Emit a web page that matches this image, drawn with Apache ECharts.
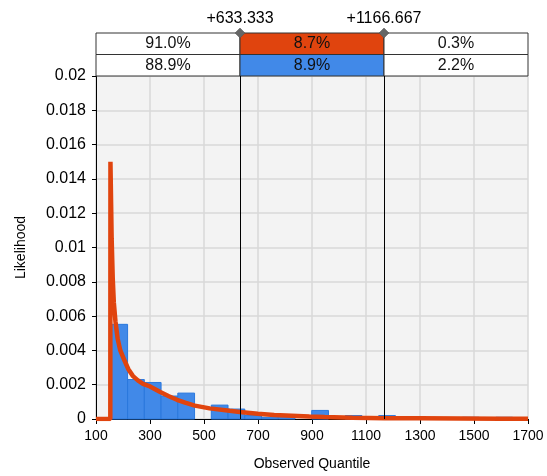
<!DOCTYPE html>
<html>
<head>
<meta charset="utf-8">
<script src="https://cdn.jsdelivr.net/npm/echarts@6/dist/echarts.min.js"></script>
<style>
html,body{margin:0;padding:0;background:#fff;}
#chart{width:547px;height:476px;}
</style>
</head>
<body>
<div id="chart"></div>
<script>
// ---- data ----
var xTickValues = [100, 300, 500, 700, 900, 1100, 1300, 1500, 1700];
var yTickValues = [0, 0.002, 0.004, 0.006, 0.008, 0.01, 0.012, 0.014, 0.016, 0.018, 0.02];
var thresholds = [633.333, 1166.667];
var thresholdLabels = ['+633.333', '+1166.667'];
var fitPercents = ['91.0%', '8.7%', '0.3%'];
var histPercents = ['88.9%', '8.9%', '2.2%'];
var binStart = 155;
var binWidth = 62;
var binDensity = [0.00552, 0.0023, 0.00213, 0.00134, 0.00151, 0, 0.00081, 0.00058,
                  0.0002, 0.0001, 0.0001, 0, 0.0005, 0, 0.0002, 0, 0.0002, 0, 0, 0, 0, 0.0001, 0, 0.0001];
var curveX = [100, 153, 153.5, 156, 158, 162, 166, 172, 180, 190, 203, 220, 237, 255, 274, 300, 338, 370, 400, 430, 466, 521, 595, 633, 699, 760, 825, 890, 947, 1050, 1169, 1300, 1450, 1600, 1700];
var curveY = [0, 0, 0.015, 0.0125, 0.0105, 0.0082, 0.0068, 0.0057, 0.0047, 0.0040, 0.0035, 0.0029, 0.0025, 0.00225, 0.00205, 0.0019, 0.00157, 0.00133, 0.00112, 0.00095, 0.00078, 0.00062, 0.00048, 0.00041, 0.00030, 0.00024, 0.00019, 0.00014, 0.00011, 0.00008, 0.00005, 0.00004, 0.00003, 0.00002, 0.00002];

var xMin = xTickValues[0], xMax = xTickValues[xTickValues.length - 1];
var yMax = yTickValues[yTickValues.length - 1];

// build derived tables
var histData = binDensity.map(function (d, i) {
  return [binStart + i * binWidth, binStart + (i + 1) * binWidth, d];
});
var curveData = curveX.map(function (x, i) { return [x, curveY[i]]; });
var colEdges = [xMin].concat(thresholds).concat([xMax]);
var tableData = [];
[fitPercents, histPercents].forEach(function (row, r) {
  row.forEach(function (txt, c) {
    tableData.push([colEdges[c], colEdges[c + 1], r, txt, c]);
  });
});
var markerData = thresholds.map(function (t, i) { return [t, 2, thresholdLabels[i]]; });

var FONT = '"Liberation Sans", Arial, sans-serif';
var RED = '#E0440E', BLUE = '#4189E8';

var chart = echarts.init(document.getElementById('chart'), null, {renderer: 'canvas'});
chart.setOption({
  animation: false,
  backgroundColor: '#ffffff',
  textStyle: {fontFamily: FONT},
  grid: [
    {left: 96, right: 19, top: 76, bottom: 56, show: true, backgroundColor: '#F3F3F3', borderWidth: 0},
    {left: 96, right: 19, top: 33, height: 43}
  ],
  xAxis: [
    {
      type: 'value', gridIndex: 0, min: xMin, max: xMax, interval: 200,
      name: 'Observed Quantile', nameLocation: 'middle', nameGap: 38,
      nameTextStyle: {fontSize: 14, color: '#000', fontFamily: FONT},
      axisLine: {lineStyle: {color: '#000', width: 1}},
      axisTick: {show: true, length: 5, lineStyle: {color: '#000'}},
      axisLabel: {fontSize: 14, color: '#000', margin: 10, fontFamily: FONT,
        formatter: function (v) { return String(v); }},
      splitLine: {show: true, lineStyle: {color: '#D9D9D9', width: 1.5}}
    },
    {type: 'value', gridIndex: 1, min: xMin, max: xMax, show: false}
  ],
  yAxis: [
    {
      type: 'value', gridIndex: 0, min: 0, max: yMax, interval: 0.002,
      name: 'Likelihood', nameLocation: 'middle', nameGap: 68, nameRotate: 90,
      nameTextStyle: {fontSize: 14, color: '#000', fontFamily: FONT},
      axisLine: {show: true, lineStyle: {color: '#000', width: 1}},
      axisTick: {show: true, length: 4, lineStyle: {color: '#000'}},
      axisLabel: {fontSize: 16, color: '#000', margin: 10, fontFamily: FONT,
        formatter: function (v) { return String(Number(v.toFixed(4))); }},
      splitLine: {show: true, lineStyle: {color: '#D9D9D9', width: 1.5}}
    },
    {type: 'value', gridIndex: 1, min: 0, max: 2, show: false}
  ],
  series: [
    {
      type: 'custom', name: 'hist', xAxisIndex: 0, yAxisIndex: 0, z: 2,
      data: histData,
      renderItem: function (params, api) {
        var v = api.value(2);
        if (!v) return null;
        var p0 = api.coord([api.value(0), 0]);
        var p1 = api.coord([api.value(1), v]);
        return {
          type: 'rect',
          shape: {x: p0[0], y: p1[1], width: p1[0] - p0[0], height: p0[1] - p1[1]},
          style: {fill: BLUE, stroke: '#2A78DD', lineWidth: 1}
        };
      },
      markLine: {
        silent: true, symbol: 'none', z: 10,
        label: {show: false},
        lineStyle: {color: '#000', width: 1, type: 'solid'},
        data: thresholds.map(function (t) { return {xAxis: t}; })
      }
    },
    {
      type: 'line', name: 'fit', xAxisIndex: 0, yAxisIndex: 0, z: 5,
      data: curveData, showSymbol: false, symbol: 'none',
      lineStyle: {color: RED, width: 4.5}
    },
    {
      type: 'custom', name: 'table', xAxisIndex: 1, yAxisIndex: 1, z: 3,
      data: tableData,
      renderItem: function (params, api) {
        var r = api.value(2), c = api.value(4);
        var p0 = api.coord([api.value(0), 2 - r]);
        var p1 = api.coord([api.value(1), 1 - r]);
        var fill = '#ffffff';
        if (c === 1) fill = r === 0 ? RED : BLUE;
        return {
          type: 'rect',
          shape: {x: p0[0], y: p0[1], width: p1[0] - p0[0], height: p1[1] - p0[1]},
          style: {fill: fill, stroke: '#333333', lineWidth: 1},
          textContent: {
            style: {text: tableData[params.dataIndex][3], fill: '#111', font: '16px ' + FONT}
          },
          textConfig: {position: 'inside'}
        };
      }
    },
    {
      type: 'scatter', name: 'markers', xAxisIndex: 1, yAxisIndex: 1, z: 6,
      data: markerData, symbol: 'diamond', symbolSize: [10, 10],
      itemStyle: {color: '#666666', borderColor: '#555', borderWidth: 0.5, opacity: 1},
      label: {show: true, position: 'top', distance: 1, fontSize: 16, color: '#000', opacity: 1, fontFamily: FONT,
        formatter: function (p) { return p.data[2]; }}
    }
  ]
});
</script>
</body>
</html>
